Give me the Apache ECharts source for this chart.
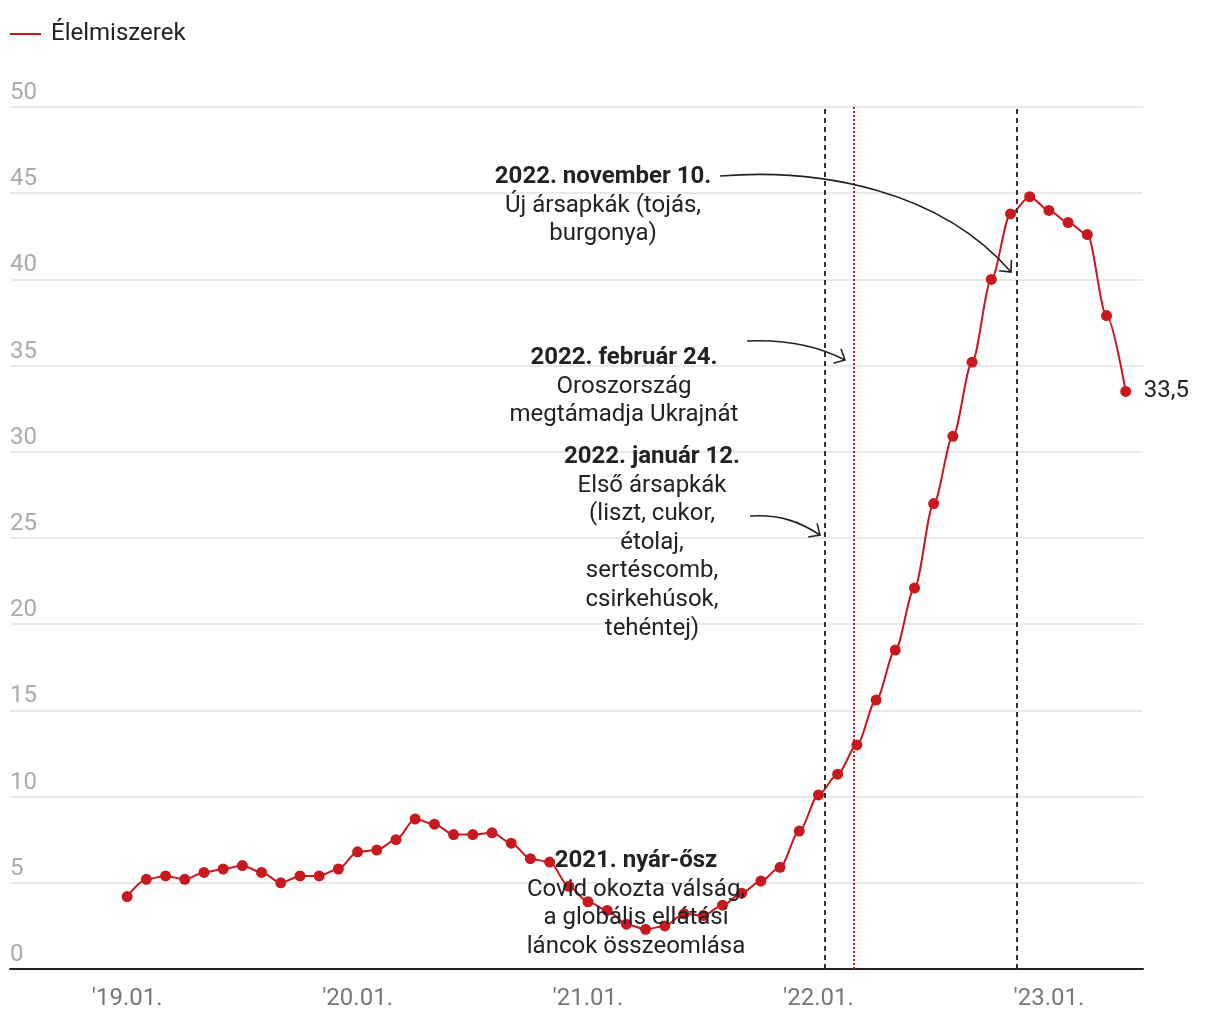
<!DOCTYPE html>
<html><head><meta charset="utf-8">
<script src="https://cdn.jsdelivr.net/npm/echarts@6/dist/echarts.min.js"></script>
<style>html,body{margin:0;padding:0;background:#fff}#c{width:1220px;height:1020px}</style>
</head><body><div id="c"></div>
<script>
// Months (first of month), Jan 2019 – May 2023
const categories = [
  '2019.01','2019.02','2019.03','2019.04','2019.05','2019.06','2019.07','2019.08','2019.09','2019.10','2019.11','2019.12',
  '2020.01','2020.02','2020.03','2020.04','2020.05','2020.06','2020.07','2020.08','2020.09','2020.10','2020.11','2020.12',
  '2021.01','2021.02','2021.03','2021.04','2021.05','2021.06','2021.07','2021.08','2021.09','2021.10','2021.11','2021.12',
  '2022.01','2022.02','2022.03','2022.04','2022.05','2022.06','2022.07','2022.08','2022.09','2022.10','2022.11','2022.12',
  '2023.01','2023.02','2023.03','2023.04','2023.05'
];
// Élelmiszerek – yearly price change (%)
const values = [
  4.2,5.2,5.4,5.2,5.6,5.8,6.0,5.6,5.0,5.4,5.4,5.8,
  6.8,6.9,7.5,8.7,8.4,7.8,7.8,7.9,7.3,6.4,6.2,4.8,
  3.9,3.4,2.6,2.3,2.5,3.2,3.1,3.7,4.4,5.1,5.9,8.0,
  10.1,11.3,13.0,15.6,18.5,22.1,27.0,30.9,35.2,40.0,43.8,44.8,
  44.0,43.3,42.6,37.9,33.5
];
const tickCategories = ['2019.01','2020.01','2021.01','2022.01','2023.01'];
const tickLabels = ["'19.01.","'20.01.","'21.01.","'22.01.","'23.01."];
const seriesName = 'Élelmiszerek';
// Event markers (dates)
const eventDates = ['2022-01-12','2022-02-24','2022-11-10'];
const eventTitles = ['2022. január 12.','2022. február 24.','2022. november 10.'];
const eventTexts = [
  ['Első ársapkák','(liszt, cukor,','étolaj,','sertéscomb,','csirkehúsok,','tehéntej)'],
  ['Oroszország','megtámadja Ukrajnát'],
  ['Új ársapkák (tojás,','burgonya)']
];
const covidTitle = '2021. nyár-ősz';
const covidText = ['Covid okozta válság,','a globális ellátási','láncok összeomlása'];

const RED = '#c8191e';
const FONT = 'Roboto';
const FS = 24;

function monthPos(dateStr){
  const [y,m,d] = dateStr.split('-').map(Number);
  const dim = new Date(y, m, 0).getDate();
  return (y-2019)*12 + (m-1) + (d-1)/dim;
}
const seriesData = values.map((v,i)=>[i,v]);
const tickIdx = tickCategories.map(c=>categories.indexOf(c));
const eventPos = eventDates.map(monthPos);

const chart = echarts.init(document.getElementById('c'), null, {renderer:'canvas'});

function textBlock(cx, y0, lh, title, lines){
  const els = [];
  const all = [title].concat(lines);
  all.forEach((t,i)=>{
    els.push({type:'text', x:cx, y:y0+i*lh, z:100,
      style:{text:t, fill:'#222', fontFamily:FONT, fontSize:FS,
        fontWeight: i===0 && title ? 'bold':'normal',
        align:'center', verticalAlign:'middle'}});
  });
  return els;
}
function arrow(p0,p1,p2,p3){
  const ang = Math.atan2(p3[1]-p2[1], p3[0]-p2[0]);
  const L = 12, a = Math.PI/4.2;
  const h1 = [p3[0]-L*Math.cos(ang-a), p3[1]-L*Math.sin(ang-a)];
  const h2 = [p3[0]-L*Math.cos(ang+a), p3[1]-L*Math.sin(ang+a)];
  return [
    {type:'bezierCurve', z:100, shape:{x1:p0[0],y1:p0[1],cpx1:p1[0],cpy1:p1[1],cpx2:p2[0],cpy2:p2[1],x2:p3[0],y2:p3[1]},
      style:{stroke:'#222', lineWidth:1.6, fill:null}},
    {type:'polyline', z:100, shape:{points:[h1,p3,h2]}, style:{stroke:'#222', lineWidth:1.6, fill:null}}
  ];
}

const graphics = [].concat(
  textBlock(603, 177, 28.6, eventTitles[2], eventTexts[2]),
  arrow([720,176],[820,168],[940,190],[1011,272]),
  textBlock(624, 358, 28.6, eventTitles[1], eventTexts[1]),
  arrow([747,341],[790,339],[820,347],[845,360]),
  textBlock(652, 457, 28.6, eventTitles[0], eventTexts[0]),
  arrow([750,516],[780,514],[800,522],[820,535]),
  textBlock(636, 861, 28.6, covidTitle, covidText)
);

chart.setOption({
  animation:false,
  textStyle:{fontFamily:FONT},
  legend:{left:10, top:22, padding:0, icon:'rect', itemWidth:31, itemHeight:2, itemGap:20,
    textStyle:{fontSize:FS, color:'#222', fontFamily:FONT, padding:[0,0,0,5]}, data:[seriesName]},
  grid:{left:10, right:77, top:107, bottom:51, containLabel:false},
  xAxis:{type:'value', min:-6.1, max:52.9,
    axisLine:{show:true, onZero:false, lineStyle:{color:'#222', width:2}},
    axisTick:{show:false},
    splitLine:{show:false},
    axisLabel:{customValues:tickIdx, margin:18, color:'#777', fontSize:FS, fontFamily:FONT,
      formatter:v=>{const k=tickIdx.indexOf(Math.round(v)); return k>=0?tickLabels[k]:'';}}
  },
  yAxis:{type:'value', min:0, max:50, interval:5,
    axisLine:{show:false}, axisTick:{show:false},
    splitLine:{show:true, lineStyle:{color:'#e2e2e2', width:1.5}},
    axisLabel:{inside:true, margin:0, color:'#aaa', fontSize:FS, fontFamily:FONT,
      align:'left', verticalAlign:'bottom', padding:[0,0,2,0]}
  },
  series:[{
    type:'line', name:seriesName, data:seriesData,
    smooth:0.3, smoothMonotone:'x',
    symbol:'circle', symbolSize:11, showSymbol:true,
    lineStyle:{color:RED, width:2}, itemStyle:{color:RED},
    endLabel:{show:true, distance:18, color:'#222', fontSize:FS, fontFamily:FONT,
      formatter:p=>String(p.value[1]).replace('.',',')},
    markLine:{silent:true, symbol:['none','none'], label:{show:false}, animation:false,
      data:[
        {xAxis:eventPos[0], lineStyle:{type:[5,4], color:'#333', width:2}},
        {xAxis:eventPos[1], lineStyle:{type:[2,2], color:RED, width:2}},
        {xAxis:eventPos[2], lineStyle:{type:[5,4], color:'#333', width:2}}
      ]}
  }],
  graphic:graphics
});
</script></body></html>
